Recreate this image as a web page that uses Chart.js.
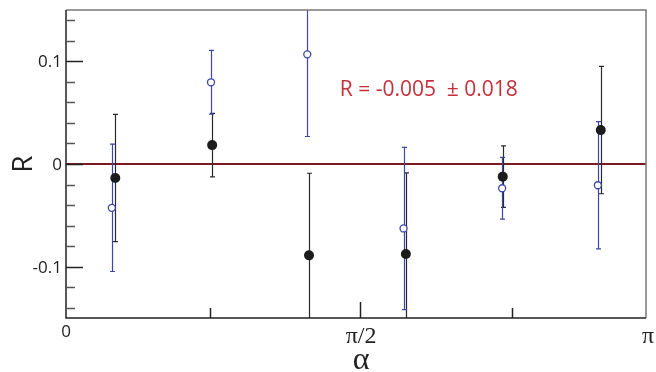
<!DOCTYPE html>
<html>
<head>
<meta charset="utf-8">
<script src="https://cdn.jsdelivr.net/npm/chart.js@4.4.1/dist/chart.umd.min.js"></script>
<style>
  body { margin: 0; background: #fff; }
  #wrap { width: 656px; height: 372px; }
</style>
</head>
<body>
<div id="wrap"><canvas id="rChart" width="656" height="372"></canvas></div>
<script>
// x in units of pi
const filledX = [0.085, 0.252, 0.419, 0.586, 0.753, 0.922];
const filledY = [-0.0136, 0.0184, -0.089, -0.0876, -0.0123, 0.033];
const filledErr = [0.062, 0.031, 0.080, 0.079, 0.030, 0.062];

const openX = [0.079, 0.250, 0.416, 0.582, 0.752, 0.917];
const openY = [-0.0427, 0.0796, 0.1068, -0.0628, -0.0236, -0.0207];
const openErr = [0.062, 0.031, 0.080, 0.079, 0.030, 0.062];

const yMajorTicks = [-0.1, 0, 0.1];
const yTickLabels = ['-0.1', '0', '0.1'];
const yMinorTicks = [-0.14, -0.12, -0.08, -0.06, -0.04, -0.02, 0.02, 0.04, 0.06, 0.08, 0.12, 0.14];
const xTickMarks = [0.248, 0.507, 0.769];
const xTickLabelVals = [0, 0.507, 1.0];
const xTickLabels = ['0', 'π/2', 'π'];

const annotation = 'R = -0.005  ± 0.018';

function toPoints(xs, ys) {
  return xs.map((x, i) => ({ x: x, y: ys[i] }));
}

// 1. zero line, error bars, frame, ticks and labels
const errorBars = {
  id: 'errorBars',
  beforeDatasetsDraw(chart) {
    const ctx = chart.ctx, a = chart.chartArea;
    const xs = chart.scales.x, ys = chart.scales.y;
    ctx.save();
    ctx.beginPath();
    ctx.rect(a.left, a.top, a.right - a.left, a.bottom - a.top);
    ctx.clip();

    // zero line
    ctx.strokeStyle = '#7d1a1f';
    ctx.lineWidth = 2;
    ctx.beginPath();
    ctx.moveTo(a.left, ys.getPixelForValue(0));
    ctx.lineTo(a.right, ys.getPixelForValue(0));
    ctx.stroke();

    const drawBars = (xv, yv, ev, color) => {
      ctx.strokeStyle = color;
      ctx.lineWidth = 1.2;
      xv.forEach((x, i) => {
        const px = Math.round(xs.getPixelForValue(x)) + 0.5;
        const top = ys.getPixelForValue(yv[i] + ev[i]);
        const bot = ys.getPixelForValue(yv[i] - ev[i]);
        ctx.beginPath();
        ctx.moveTo(px, top);
        ctx.lineTo(px, bot);
        ctx.moveTo(px - 2.5, top);
        ctx.lineTo(px + 2.5, top);
        ctx.moveTo(px - 2.5, bot);
        ctx.lineTo(px + 2.5, bot);
        ctx.stroke();
      });
    };
    drawBars(filledX, filledY, filledErr, '#2a2a2a');
    drawBars(openX, openY, openErr, '#3b47a6');
    ctx.restore();
  },
  afterDraw(chart) {
    const ctx = chart.ctx, a = chart.chartArea;
    const xs = chart.scales.x, ys = chart.scales.y;
    ctx.save();

    // frame
    ctx.lineWidth = 1.5;
    ctx.strokeStyle = '#777';
    ctx.beginPath();
    ctx.moveTo(a.left, a.top);
    ctx.lineTo(a.right, a.top);
    ctx.lineTo(a.right, a.bottom);
    ctx.stroke();
    ctx.strokeStyle = '#222';
    ctx.beginPath();
    ctx.moveTo(a.left, a.top);
    ctx.lineTo(a.left, a.bottom);
    ctx.lineTo(a.right, a.bottom);
    ctx.stroke();

    // y ticks, inside
    ctx.lineWidth = 1.5;
    ctx.strokeStyle = '#555';
    yMinorTicks.forEach(v => {
      const py = Math.round(ys.getPixelForValue(v)) + 0.5;
      ctx.beginPath();
      ctx.moveTo(a.left, py);
      ctx.lineTo(a.left + 9, py);
      ctx.stroke();
    });
    ctx.strokeStyle = '#222';
    yMajorTicks.forEach(v => {
      const py = Math.round(ys.getPixelForValue(v)) + 0.5;
      ctx.beginPath();
      ctx.moveTo(a.left, py);
      ctx.lineTo(a.left + 17, py);
      ctx.stroke();
    });

    // x ticks, inside
    xTickMarks.forEach((v, i) => {
      const px = Math.round(xs.getPixelForValue(v)) + 0.5;
      const len = i === 1 ? 16 : 10;
      ctx.beginPath();
      ctx.moveTo(px, a.bottom);
      ctx.lineTo(px, a.bottom - len);
      ctx.stroke();
    });

    // y tick labels
    ctx.fillStyle = '#222';
    ctx.font = '17px "Open Sans"';
    ctx.textAlign = 'right';
    ctx.textBaseline = 'alphabetic';
    yMajorTicks.forEach((v, i) => {
      ctx.fillText(yTickLabels[i], a.left - 4, ys.getPixelForValue(v) + 6);
    });

    // x tick labels
    ctx.textAlign = 'center';
    xTickLabels.forEach((t, i) => {
      const px = xs.getPixelForValue(xTickLabelVals[i]);
      if (t === '0') {
        ctx.font = '17px "Open Sans"';
        ctx.fillText(t, px, a.bottom + 19);
      } else {
        ctx.font = '24px "Liberation Serif"';
        ctx.fillText(t, px + (i === 2 ? 2 : 1), a.bottom + 25);
      }
    });

    // axis titles
    ctx.font = '32px "Liberation Serif"';
    ctx.fillText('α', xs.getPixelForValue(0.507) + 1, a.bottom + 51);
    ctx.save();
    ctx.translate(32, ys.getPixelForValue(0));
    ctx.rotate(-Math.PI / 2);
    ctx.font = '28px "Open Sans"';
    ctx.fillText('R', 0, 0);
    ctx.restore();

    // annotation
    ctx.fillStyle = '#c4303a';
    ctx.font = '21px "Open Sans"';
    ctx.textAlign = 'left';
    ctx.fillText(annotation, xs.getPixelForValue(0.472), ys.getPixelForValue(0.066));
    ctx.restore();
  }
};

const rCtx = document.getElementById('rChart').getContext('2d');
new Chart(rCtx, {
  type: 'scatter',
  data: {
    datasets: [{
      label: 'open',
      data: toPoints(openX, openY),
      pointRadius: 3.5,
      pointBorderWidth: 1.3,
      borderColor: '#3b47a6',
      backgroundColor: '#fff'
    }, {
      label: 'filled',
      data: toPoints(filledX, filledY),
      pointRadius: 5,
      pointBorderWidth: 0,
      borderColor: '#1c1c1c',
      backgroundColor: '#1c1c1c'
    }]
  },
  options: {
    responsive: false,
    animation: false,
    layout: { padding: { left: 66, right: 10, top: 10, bottom: 54 } },
    plugins: { legend: { display: false }, tooltip: { enabled: false } },
    scales: {
      x: { type: 'linear', min: 0, max: 1, display: false },
      y: { type: 'linear', min: -0.15, max: 0.15, display: false }
    }
  },
  plugins: [errorBars]
});
</script>
</body>
</html>
